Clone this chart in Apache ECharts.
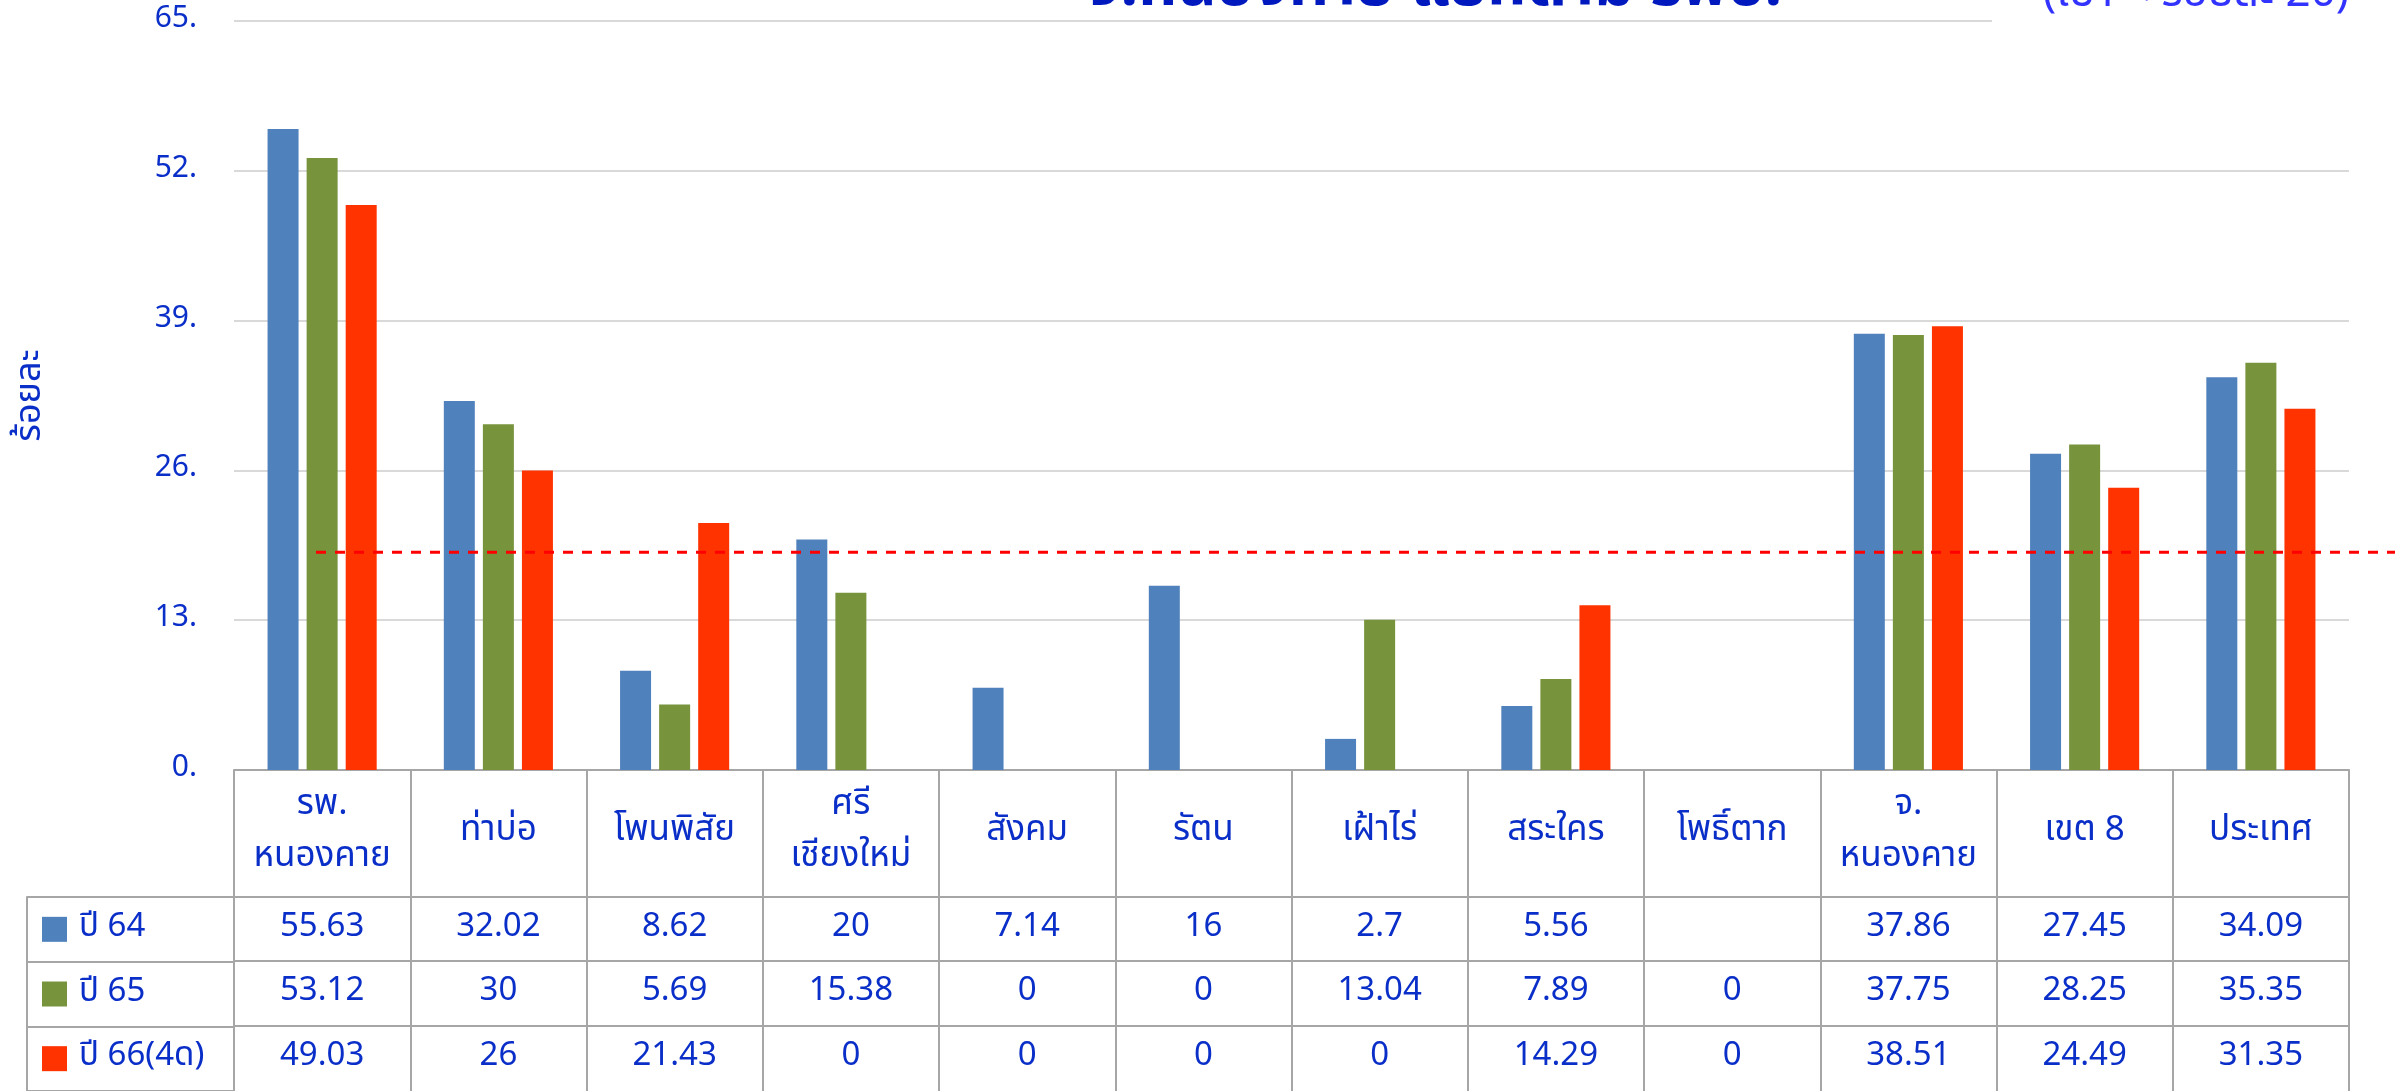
<!DOCTYPE html>
<html>
<head>
<meta charset="utf-8">
<style>
    html, body { margin: 0; padding: 0; background: #fff; }
    #chart_con { width: 2395px; height: 1091px; }
</style>
<script src="https://cdn.jsdelivr.net/npm/echarts@6/dist/echarts.min.js"></script>
</head>
<body>
<div id="chart_con"></div>
<script>
// data
const categories = ['รพ.\nหนองคาย', 'ท่าบ่อ', 'โพนพิสัย', 'ศรี\nเชียงใหม่', 'สังคม', 'รัตน',
    'เฝ้าไร่', 'สระใคร', 'โพธิ์ตาก', 'จ.\nหนองคาย', 'เขต 8', 'ประเทศ'];
const seriesNames = ['ปี 64', 'ปี 65', 'ปี 66(4ด)'];
const y64 = [55.63, 32.02, 8.62, 20, 7.14, 16, 2.7, 5.56, null, 37.86, 27.45, 34.09];
const y65 = [53.12, 30, 5.69, 15.38, 0, 0, 13.04, 7.89, 0, 37.75, 28.25, 35.35];
const y66 = [49.03, 26, 21.43, 0, 0, 0, 0, 14.29, 0, 38.51, 24.49, 31.35];
const targetLevel = 18.9;
const yTicks = [0, 13, 26, 39, 52, 65];
const titleText = 'จ.หนองคาย แยกตาม รพช.';
const subText = '(เป้า < ร้อยละ 20)';
const yName = 'ร้อยละ';

const colors = ['#4f81bd', '#77933c', '#ff3300'];
const textBlue = '#0a2ec8';
const lineGray = '#a6a6a6';
const font = "'Noto Sans Thai', 'Noto Sans', sans-serif";
const rows = [y64, y65, y66];

const chart = echarts.init(document.getElementById('chart_con'));

function rowAxis(idx, offset) {
    return {
        type: 'category',
        gridIndex: 0,
        position: 'bottom',
        offset: offset,
        data: categories,
        axisLine: { show: true, lineStyle: { color: lineGray, width: 2 } },
        axisTick: { show: false },
        axisLabel: {
            interval: 0,
            margin: 32,
            verticalAlign: 'middle',
            fontSize: 33,
            fontFamily: font,
            color: textBlue,
            formatter: function (v, i) {
                const val = rows[idx][i];
                return val === null ? '' : String(val);
            }
        }
    };
}

// legend swatches drawn as rich text in the table's first column
const swatchRich = {};
colors.forEach(function (c, i) {
    swatchRich['s' + i] = { backgroundColor: c, width: 25, height: 25 };
});
swatchRich.t = { fontSize: 33, fontFamily: font, color: textBlue, padding: [0, 0, 0, 12] };

const option = {
    backgroundColor: '#fff',
    animation: false,
    legend: { show: false, data: seriesNames },
    grid: [
        { left: 234, right: 46, top: 21, bottom: 321 },
        // legend column of the data table
        { left: 27, width: 207, top: 897, height: 194 },
        // dashed target line, runs past the plot to the edge
        { left: 316, right: 0, top: 21, bottom: 321 }
    ],
    xAxis: [
        {
            type: 'category',
            gridIndex: 0,
            data: categories,
            axisLine: { show: true, lineStyle: { color: lineGray, width: 2 } },
            axisTick: { show: true, interval: 0, length: 321, lineStyle: { color: lineGray, width: 2 } },
            axisLabel: {
                interval: 0,
                margin: 63,
                verticalAlign: 'middle',
                lineHeight: 52,
                fontSize: 35,
                fontFamily: font,
                color: textBlue
            }
        },
        rowAxis(0, 127),
        rowAxis(1, 191),
        rowAxis(2, 256),
        { type: 'value', gridIndex: 1, show: false },
        { type: 'value', gridIndex: 2, min: 0, max: 1, show: false }
    ],
    yAxis: [
        {
            type: 'value',
            gridIndex: 0,
            min: yTicks[0],
            max: yTicks[yTicks.length - 1],
            interval: yTicks[1] - yTicks[0],
            name: yName,
            nameLocation: 'middle',
            nameGap: 183,
            nameTextStyle: { fontSize: 36, fontFamily: font, color: textBlue },
            axisLine: { show: false },
            axisTick: { show: false },
            splitLine: { lineStyle: { color: '#d9d9d9', width: 2 } },
            axisLabel: {
                margin: 37,
                fontSize: 30,
                fontFamily: font,
                color: textBlue,
                formatter: function (v) { return v + '.'; }
            }
        },
        {
            type: 'category',
            gridIndex: 1,
            inverse: true,
            data: seriesNames,
            axisLine: { show: true, lineStyle: { color: lineGray, width: 2 } },
            axisTick: { show: false },
            axisLabel: {
                inside: true,
                margin: 15,
                align: 'left',
                formatter: function (v, i) {
                    return '{s' + i + '|}{t|' + v + '}';
                },
                rich: swatchRich
            },
            splitLine: { show: true, interval: 0, lineStyle: { color: lineGray, width: 2 } }
        },
        {
            type: 'value',
            gridIndex: 2,
            min: yTicks[0],
            max: yTicks[yTicks.length - 1],
            show: false
        }
    ],
    series: [
        {
            name: seriesNames[0], type: 'bar', xAxisIndex: 0, yAxisIndex: 0,
            barWidth: 31, barGap: '26%',
            itemStyle: { color: colors[0] },
            data: y64
        },
        {
            name: seriesNames[1], type: 'bar', xAxisIndex: 0, yAxisIndex: 0,
            barWidth: 31, barGap: '26%',
            itemStyle: { color: colors[1] },
            data: y65
        },
        {
            name: seriesNames[2], type: 'bar', xAxisIndex: 0, yAxisIndex: 0,
            barWidth: 31, barGap: '26%',
            itemStyle: { color: colors[2] },
            data: y66
        },
        {
            type: 'line', xAxisIndex: 5, yAxisIndex: 2,
            symbol: 'none', silent: true,
            lineStyle: { color: '#ff0000', width: 3, type: [10, 9] },
            data: [[0, targetLevel], [1, targetLevel]]
        }
    ],
    graphic: [
        {
            type: 'rect', left: 1992, top: 0, z: 10,
            shape: { width: 403, height: 30 },
            style: { fill: '#fff' }
        },
        {
            type: 'text', x: 1434, y: 23, z: 11,
            style: {
                text: titleText, align: 'center', verticalAlign: 'bottom',
                font: "bold 62px " + font, fill: '#0019bf'
            }
        },
        {
            type: 'text', x: 2349, y: 19, z: 11,
            style: {
                text: subText, align: 'right', verticalAlign: 'bottom',
                font: "44px " + font, fill: '#3333ff'
            }
        }
    ]
};

chart.setOption(option);
window.addEventListener('resize', function () {
    chart.resize();
});
</script>
</body>
</html>
